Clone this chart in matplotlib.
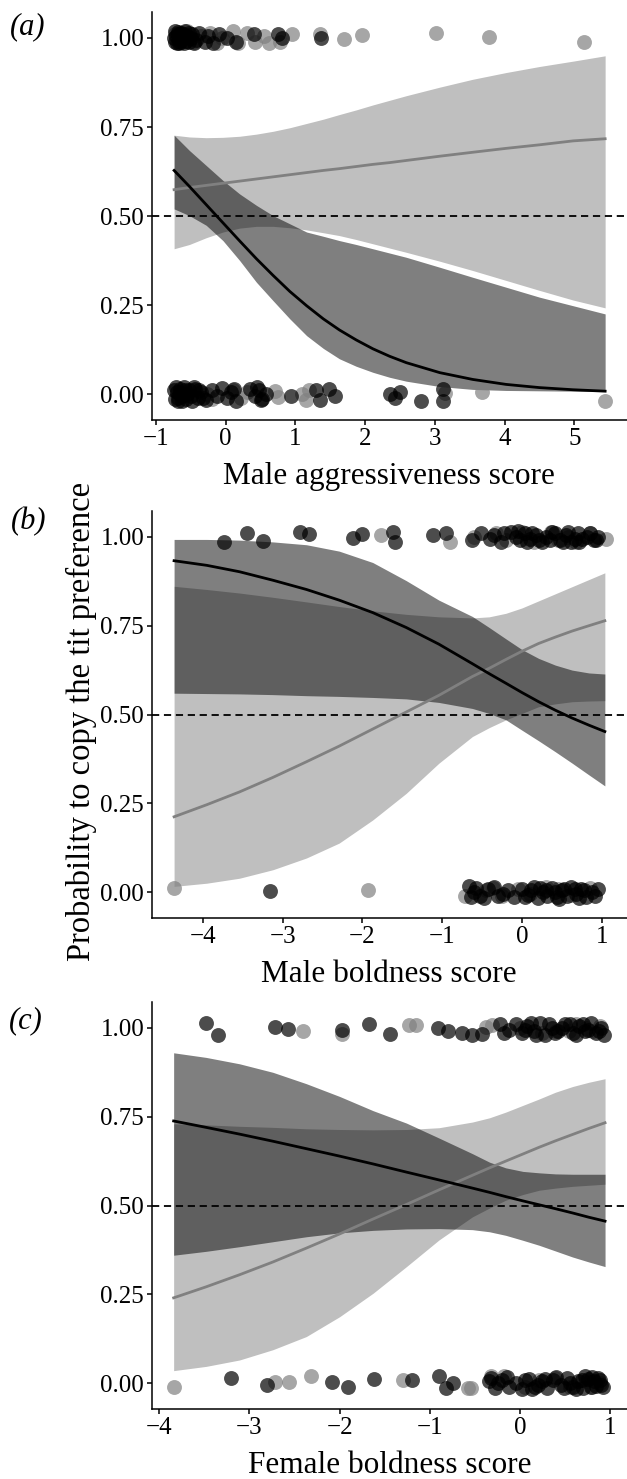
import matplotlib
matplotlib.use('Agg')
import matplotlib.pyplot as plt

plt.rcParams['font.family'] = ['Liberation Serif', 'DejaVu Serif']

# ---------------- panel (a): male aggressiveness ----------------
a_grid = [-0.74, -0.52, -0.28, -0.04, 0.20, 0.44, 0.68, 0.92, 1.16, 1.40,
          1.63, 1.87, 2.11, 2.35, 2.59, 3.07, 3.54, 4.02, 4.50, 4.98, 5.44]
a_dark_fit = [0.628, 0.583, 0.532, 0.481, 0.430, 0.380, 0.333, 0.288, 0.248, 0.211,
              0.180, 0.152, 0.127, 0.106, 0.088, 0.060, 0.041, 0.027, 0.018, 0.012, 0.008]
a_dark_lo = [0.520, 0.501, 0.474, 0.431, 0.375, 0.314, 0.262, 0.211, 0.164, 0.128,
             0.099, 0.078, 0.061, 0.047, 0.036, 0.021, 0.013, 0.010, 0.009, 0.008, 0.007]
a_dark_hi = [0.727, 0.684, 0.642, 0.600, 0.562, 0.530, 0.501, 0.478, 0.455, 0.443,
             0.431, 0.420, 0.408, 0.396, 0.384, 0.356, 0.328, 0.300, 0.272, 0.248, 0.225]
a_light_fit = [0.574, 0.580, 0.586, 0.592, 0.598, 0.604, 0.610, 0.616, 0.622, 0.628,
               0.633, 0.639, 0.645, 0.650, 0.656, 0.668, 0.679, 0.690, 0.700, 0.711, 0.717]
a_light_lo = [0.408, 0.420, 0.439, 0.455, 0.466, 0.471, 0.471, 0.467, 0.461, 0.453,
              0.445, 0.434, 0.422, 0.410, 0.398, 0.373, 0.347, 0.319, 0.291, 0.264, 0.242]
a_light_hi = [0.727, 0.722, 0.720, 0.721, 0.724, 0.730, 0.738, 0.748, 0.760, 0.772,
              0.785, 0.798, 0.812, 0.825, 0.838, 0.862, 0.884, 0.903, 0.920, 0.935, 0.950]

a_dark_x = [-0.74, -0.73, -0.72, -0.71, -0.70, -0.69, -0.68, -0.67, -0.66, -0.64,
            -0.63, -0.62, -0.61, -0.60, -0.58, -0.57, -0.55, -0.53, -0.52, -0.50,
            -0.48, -0.45, -0.42, -0.38, -0.30, -0.25, -0.18, -0.10, 0.02, 0.15,
            0.40, 0.75, 0.80, 1.37,
            -0.74, -0.72, -0.71, -0.70, -0.69, -0.68, -0.66, -0.65, -0.63, -0.62,
            -0.60, -0.58, -0.57, -0.55, -0.52, -0.50, -0.48, -0.46, -0.44, -0.40,
            -0.38, -0.35, -0.32, -0.28, -0.20, -0.12, -0.05, 0.02, 0.08, 0.12,
            0.15, 0.35, 0.42, 0.45, 0.48, 0.50, 0.52, 0.58, 0.94, 1.30,
            1.35, 1.48, 1.56, 2.35, 2.42, 2.50, 2.80, 3.12, 3.12]
a_dark_y = [1.000, 0.990, 1.020, 1.005, 0.985, 1.018, 1.010, 0.985, 0.990, 1.015,
            1.000, 1.000, 1.012, 0.985, 1.020, 0.992, 1.005, 1.015, 0.990, 1.000,
            1.010, 0.985, 0.995, 1.015, 0.990, 1.005, 0.985, 1.010, 1.000, 0.990,
            1.010, 1.010, 1.000, 1.000,
            0.010, -0.015, 0.020, 0.005, -0.010, -0.020, 0.015, 0.000, -0.005, -0.020,
            0.020, 0.012, -0.015, 0.000, 0.010, -0.005, -0.020, 0.020, 0.015, -0.010,
            0.010, 0.005, -0.012, -0.018, 0.012, -0.005, 0.018, -0.012, 0.006, 0.015,
            -0.020, 0.015, -0.005, 0.020, 0.012, -0.018, -0.015, 0.000, -0.005, 0.010,
            -0.018, 0.015, -0.005, 0.000, -0.010, 0.005, -0.019, 0.014, -0.019]
a_light_x = [-0.72, -0.65, -0.55, -0.45, -0.35, -0.22, -0.12, -0.05, 0.10, 0.18,
             0.30, 0.42, 0.55, 0.62, 0.78, 0.95, 1.35, 1.70, 1.96, 3.02,
             3.77, 5.14,
             -0.65, -0.45, -0.27, -0.20, 0.10, 0.22, 0.30, 0.70, 0.75, 1.10,
             1.15, 1.20, 3.15, 3.68, 5.44]
a_light_y = [1.010, 0.995, 1.020, 0.990, 1.005, 1.015, 0.985, 1.000, 1.020, 0.985,
             1.015, 0.990, 1.005, 0.985, 0.990, 1.010, 1.010, 0.996, 1.008, 1.014,
             1.003, 0.990,
             0.005, 0.012, 0.000, -0.015, 0.012, -0.010, 0.005, 0.008, -0.008, 0.000,
             -0.018, 0.012, 0.003, 0.007, -0.019]

# ---------------- panel (b): male boldness ----------------
b_grid = [-4.36, -3.95, -3.54, -3.12, -2.70, -2.29, -1.87, -1.45, -1.04, -0.62,
          -0.41, -0.20, 0.00, 0.21, 0.42, 0.63, 0.84, 1.04]
b_dark_fit = [0.933, 0.920, 0.902, 0.878, 0.852, 0.822, 0.787, 0.745, 0.698, 0.643,
              0.615, 0.588, 0.562, 0.536, 0.512, 0.490, 0.470, 0.452]
b_dark_lo = [0.560, 0.559, 0.558, 0.556, 0.553, 0.551, 0.548, 0.544, 0.534, 0.517,
             0.503, 0.485, 0.456, 0.426, 0.395, 0.363, 0.330, 0.299]
b_dark_hi = [0.993, 0.993, 0.991, 0.986, 0.978, 0.960, 0.928, 0.877, 0.822, 0.776,
             0.745, 0.713, 0.683, 0.658, 0.639, 0.625, 0.617, 0.614]
b_light_fit = [0.212, 0.246, 0.282, 0.323, 0.367, 0.411, 0.459, 0.507, 0.554, 0.607,
               0.630, 0.655, 0.678, 0.700, 0.718, 0.735, 0.750, 0.764]
b_light_lo = [0.016, 0.025, 0.039, 0.063, 0.096, 0.138, 0.203, 0.278, 0.363, 0.438,
              0.463, 0.485, 0.503, 0.522, 0.530, 0.536, 0.538, 0.539]
b_light_hi = [0.861, 0.852, 0.842, 0.830, 0.817, 0.804, 0.792, 0.782, 0.775, 0.772,
              0.775, 0.785, 0.800, 0.820, 0.840, 0.860, 0.880, 0.899]

b_dark_x = [-3.74, -3.45, -3.25, -2.78, -2.67, -2.12, -2.01, -1.62, -1.59, -1.11,
            -0.95, -0.62, -0.51, -0.40, -0.35, -0.26, -0.22, -0.14, -0.08, -0.05,
            -0.02, 0.04, 0.07, 0.10, 0.13, 0.18, 0.22, 0.25, 0.30, 0.35,
            0.38, 0.42, 0.48, 0.52, 0.55, 0.58, 0.62, 0.66, 0.70, 0.72,
            0.75, 0.82, 0.86, 0.90, 0.93, 0.96,
            -3.16, -0.66, -0.64, -0.60, -0.58, -0.52, -0.48, -0.42, -0.35, -0.30,
            -0.24, -0.18, -0.10, 0.00, 0.04, 0.08, 0.12, 0.15, 0.20, 0.23,
            0.26, 0.30, 0.32, 0.38, 0.41, 0.44, 0.47, 0.50, 0.53, 0.56,
            0.62, 0.66, 0.68, 0.72, 0.74, 0.78, 0.80, 0.88, 0.92, 0.95]
b_dark_y = [0.986, 1.010, 0.989, 1.013, 1.008, 0.996, 1.008, 1.013, 0.986, 1.005,
            1.010, 0.990, 1.012, 0.995, 1.005, 0.985, 1.012, 1.015, 1.000, 1.018,
            0.990, 1.010, 0.985, 0.995, 1.012, 1.005, 0.992, 0.985, 1.000, 0.990,
            1.015, 1.012, 0.990, 0.985, 1.005, 1.015, 0.985, 0.995, 1.010, 0.985,
            0.995, 1.000, 1.012, 0.990, 0.990, 1.000,
            0.002, 0.018, -0.015, 0.000, 0.012, -0.010, -0.018, 0.008, 0.015, -0.012,
            -0.005, 0.005, -0.015, 0.010, -0.015, -0.008, 0.005, 0.015, -0.018, 0.012,
            0.000, 0.005, -0.010, 0.012, 0.000, -0.015, -0.020, 0.005, 0.010, -0.012,
            0.015, 0.010, -0.005, -0.018, 0.010, 0.005, -0.015, 0.000, -0.010, 0.008]
b_light_x = [-1.76, -0.90, -0.60, -0.33, -0.20, 0.00, 0.15, 0.36, 0.45, 0.58,
             0.68, 0.85, 1.05,
             -4.36, -1.93, -0.71, -0.45, -0.36, -0.25, -0.05, 0.10, 0.30, 0.45,
             0.62, 0.85]
b_light_y = [1.005, 0.986, 1.000, 1.010, 0.990, 1.015, 0.985, 1.015, 0.990, 1.000,
             0.985, 1.010, 0.995,
             0.011, 0.006, -0.012, 0.005, 0.012, -0.010, 0.008, -0.005, 0.015, 0.010,
             -0.008, 0.012]

# ---------------- panel (c): female boldness ----------------
c_grid = [-3.84, -3.48, -3.11, -2.74, -2.37, -2.00, -1.63, -1.26, -0.90, -0.53,
          -0.34, -0.16, 0.03, 0.21, 0.39, 0.58, 0.76, 0.94]
c_dark_fit = [0.738, 0.720, 0.701, 0.681, 0.660, 0.639, 0.617, 0.594, 0.572, 0.549,
              0.537, 0.525, 0.513, 0.502, 0.491, 0.479, 0.467, 0.456]
c_dark_lo = [0.360, 0.371, 0.384, 0.398, 0.412, 0.423, 0.430, 0.434, 0.435, 0.432,
             0.426, 0.416, 0.402, 0.388, 0.372, 0.355, 0.341, 0.328]
c_dark_hi = [0.930, 0.917, 0.899, 0.875, 0.843, 0.807, 0.767, 0.732, 0.690, 0.646,
             0.622, 0.606, 0.596, 0.592, 0.589, 0.588, 0.588, 0.588]
c_light_fit = [0.240, 0.271, 0.305, 0.341, 0.380, 0.420, 0.462, 0.503, 0.544, 0.585,
               0.606, 0.625, 0.645, 0.664, 0.682, 0.700, 0.717, 0.733]
c_light_lo = [0.035, 0.047, 0.065, 0.094, 0.131, 0.187, 0.253, 0.328, 0.403, 0.468,
              0.493, 0.515, 0.531, 0.543, 0.549, 0.554, 0.557, 0.560]
c_light_hi = [0.730, 0.727, 0.723, 0.720, 0.716, 0.714, 0.713, 0.714, 0.719, 0.735,
              0.747, 0.763, 0.782, 0.800, 0.819, 0.835, 0.847, 0.857]

c_dark_x = [-3.48, -3.35, -2.72, -2.57, -1.97, -1.68, -1.44, -0.91, -0.80, -0.64,
            -0.53, -0.42, -0.22, -0.18, -0.12, -0.05, 0.02, 0.05, 0.08, 0.12,
            0.15, 0.18, 0.22, 0.28, 0.32, 0.35, 0.38, 0.42, 0.46, 0.50,
            0.55, 0.58, 0.62, 0.65, 0.70, 0.72, 0.75, 0.78, 0.84, 0.87,
            0.90, 0.93,
            -3.20, -2.81, -2.08, -1.91, -1.62, -1.20, -0.90, -0.82, -0.75, -0.35,
            -0.32, -0.28, -0.25, -0.20, -0.15, -0.12, -0.05, 0.02, 0.05, 0.10,
            0.13, 0.16, 0.20, 0.24, 0.28, 0.30, 0.36, 0.40, 0.45, 0.48,
            0.52, 0.55, 0.58, 0.62, 0.64, 0.68, 0.70, 0.72, 0.75, 0.78,
            0.80, 0.82, 0.84, 0.86, 0.88, 0.90, 0.92]
c_dark_y = [1.013, 0.981, 1.003, 0.997, 0.993, 1.012, 0.983, 1.000, 0.992, 0.985,
            0.980, 0.983, 1.010, 0.985, 0.995, 1.012, 0.985, 0.995, 1.005, 1.015,
            0.990, 0.980, 1.015, 0.980, 1.010, 1.000, 0.985, 0.990, 1.000, 1.012,
            1.010, 0.985, 0.980, 1.005, 1.012, 0.990, 0.995, 1.015, 0.985, 0.990,
            1.000, 0.980,
            0.014, -0.006, 0.002, -0.012, 0.011, 0.009, 0.019, -0.013, 0.001, 0.005,
            0.015, -0.015, 0.000, 0.010, 0.018, -0.012, 0.000, -0.018, 0.008, 0.012,
            -0.018, -0.010, -0.005, 0.005, 0.012, -0.015, 0.010, 0.018, -0.005, -0.015,
            0.015, 0.000, -0.012, -0.018, 0.005, 0.010, -0.015, 0.020, 0.012, -0.010,
            0.018, 0.005, -0.008, 0.015, 0.010, -0.005, -0.012]
c_light_x = [-2.41, -1.97, -1.23, -1.15, -0.38, -0.31, 0.00, 0.24, 0.40, 0.54,
             0.62, 0.73, 0.80, 0.88,
             -3.835, -2.72, -2.56, -2.32, -1.30, -0.58, -0.55, -0.32, -0.18, 0.05,
             0.21, 0.39, 0.55, 0.73, 0.80, 0.88]
c_light_y = [0.992, 0.982, 1.008, 1.008, 1.003, 1.008, 1.000, 0.985, 0.990, 0.990,
             1.010, 1.000, 0.990, 1.005,
             -0.012, 0.002, 0.002, 0.019, 0.009, -0.015, -0.015, 0.020, 0.020, -0.010,
             0.010, 0.015, -0.012, 0.005, -0.012, 0.000]

y_ticks = [0.0, 0.25, 0.5, 0.75, 1.0]
y_tick_labels = ['0.00', '0.25', '0.50', '0.75', '1.00']


def draw_panel(ax, grid, d_fit, d_lo, d_hi, l_fit, l_lo, l_hi,
               dx, dy, lx, ly, xlim, xticks, xlabel):
    ax.fill_between(grid, l_lo, l_hi, color='#808080', alpha=0.5, lw=0, zorder=1)
    ax.fill_between(grid, d_lo, d_hi, color='black', alpha=0.5, lw=0, zorder=2)
    ax.plot(grid, l_fit, color='#808080', lw=2.0, zorder=3)
    ax.plot(grid, d_fit, color='black', lw=2.0, zorder=4)
    ax.axhline(0.5, color='black', lw=1.3, ls=(0, (4, 2.6)), zorder=5)
    ax.scatter(lx, ly, s=115, color='#808080', alpha=0.7, lw=0, zorder=6)
    ax.scatter(dx, dy, s=115, color='black', alpha=0.7, lw=0, zorder=7)
    ax.set_xlim(xlim)
    ax.set_ylim(-0.073, 1.073)
    ax.set_xticks(xticks)
    ax.set_yticks(y_ticks)
    ax.set_yticklabels(y_tick_labels)
    ax.set_xlabel(xlabel, fontsize=22.5, labelpad=9)
    for side in ['top', 'right']:
        ax.spines[side].set_visible(False)
    for side in ['left', 'bottom']:
        ax.spines[side].set_linewidth(1.1)
    ax.tick_params(direction='out', length=3.6, width=1.1, labelsize=18,
                   pad=2, colors='black')


fig = plt.figure(figsize=(6.27, 14.79), dpi=100)
ax_a = fig.add_axes([0.2424, 0.71602, 0.757, 0.27586])
ax_b = fig.add_axes([0.2424, 0.37931, 0.757, 0.27518])
ax_c = fig.add_axes([0.2424, 0.04733, 0.757, 0.27518])

draw_panel(ax_a, a_grid, a_dark_fit, a_dark_lo, a_dark_hi,
           a_light_fit, a_light_lo, a_light_hi,
           a_dark_x, a_dark_y, a_light_x, a_light_y,
           (-1.057, 5.748), [-1, 0, 1, 2, 3, 4, 5], 'Male aggressiveness score')
draw_panel(ax_b, b_grid, b_dark_fit, b_dark_lo, b_dark_hi,
           b_light_fit, b_light_lo, b_light_hi,
           b_dark_x, b_dark_y, b_light_x, b_light_y,
           (-4.637, 1.313), [-4, -3, -2, -1, 0, 1], 'Male boldness score')
draw_panel(ax_c, c_grid, c_dark_fit, c_dark_lo, c_dark_hi,
           c_light_fit, c_light_lo, c_light_hi,
           c_dark_x, c_dark_y, c_light_x, c_light_y,
           (-4.080, 1.179), [-4, -3, -2, -1, 0, 1], 'Female boldness score')

fig.text(81 / 627, 1 - 721 / 1479, 'Probability to copy the tit preference',
         rotation=90, ha='center', va='center', fontsize=23.5)
fig.text(28 / 627, 1 - 27 / 1479, '(a)', style='italic', fontsize=22, ha='center', va='center')
fig.text(29 / 627, 1 - 522 / 1479, '(b)', style='italic', fontsize=22, ha='center', va='center')
fig.text(26 / 627, 1 - 1021 / 1479, '(c)', style='italic', fontsize=22, ha='center', va='center')

fig.savefig('out.png', dpi=100)
